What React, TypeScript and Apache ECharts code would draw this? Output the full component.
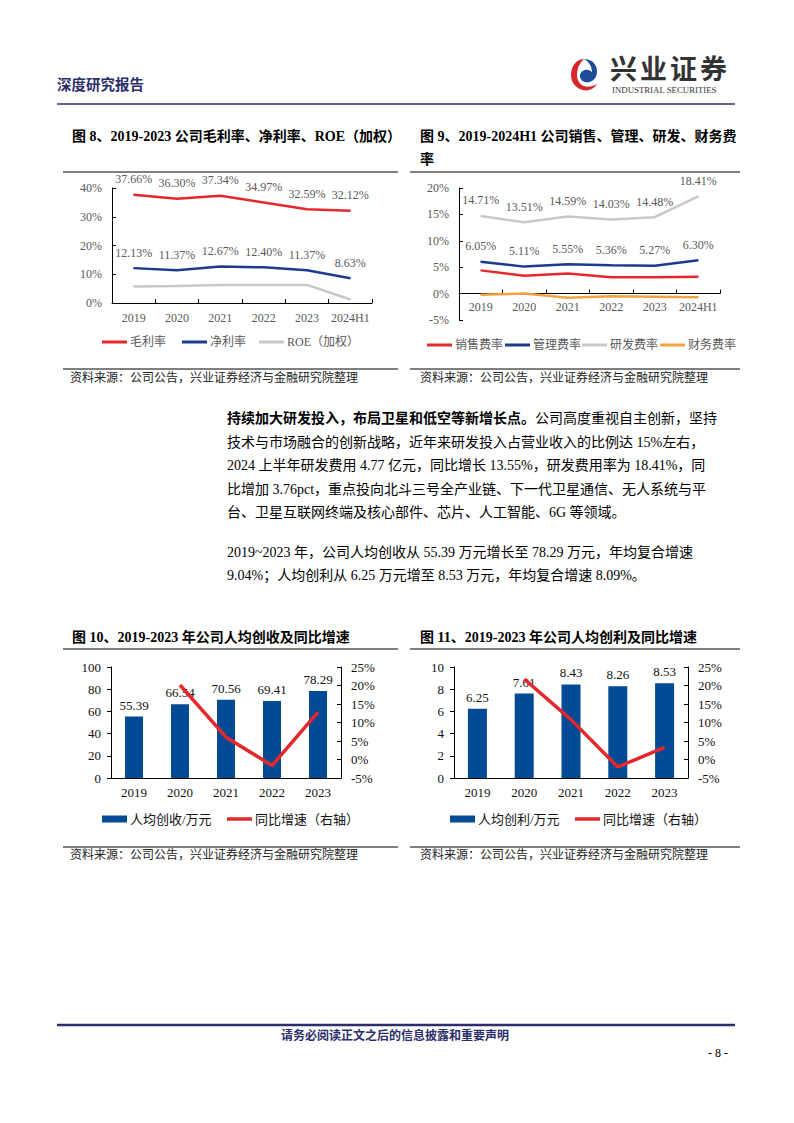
import React, { useEffect, useRef } from 'react';
import * as echarts from 'echarts';

// ---------- data ----------
const years6 = ['2019', '2020', '2021', '2022', '2023', '2024H1'];
const grossMargin = [37.66, 36.3, 37.34, 34.97, 32.59, 32.12];
const netMargin = [12.13, 11.37, 12.67, 12.4, 11.37, 8.63];
const roeWeighted = [5.7, 5.9, 6.3, 6.3, 6.3, 1.2];

const sellingRate = [4.4, 3.4, 3.8, 3.1, 3.1, 3.2];
const adminRate = [6.05, 5.11, 5.55, 5.36, 5.27, 6.3];
const rdRate = [14.71, 13.51, 14.59, 14.03, 14.48, 18.41];
const financeRate = [-0.2, 0.0, -0.8, -0.5, -0.6, -0.7];

const years5 = ['2019', '2020', '2021', '2022', '2023'];
const revenuePerCapita = [55.39, 66.54, 70.56, 69.41, 78.29];
const revenueGrowth = [null, 20.13, 6.04, -1.63, 12.79];
const profitPerCapita = [6.25, 7.61, 8.43, 8.26, 8.53];
const profitGrowth = [null, 21.76, 10.78, -2.02, 3.27];

const bodyLines = [
  '技术与市场融合的创新战略，近年来研发投入占营业收入的比例达 15%左右，',
  '2024 上半年研发费用 4.77 亿元，同比增长 13.55%，研发费用率为 18.41%，同',
  '比增加 3.76pct，重点投向北斗三号全产业链、下一代卫星通信、无人系统与平',
  '台、卫星互联网终端及核心部件、芯片、人工智能、6G 等领域。',
];
const para2Lines = [
  '2019~2023 年，公司人均创收从 55.39 万元增长至 78.29 万元，年均复合增速',
  '9.04%；人均创利从 6.25 万元增至 8.53 万元，年均复合增速 8.09%。',
];

// ---------- styling ----------
const SERIF = '"Liberation Serif", "Times New Roman", "Noto Sans CJK SC", serif';
const NAVY = '#2c2d6b';
const GRAY_TXT = '#595959';
const C_RED = '#e5282d';
const C_NAVY = '#1c3a8e';
const C_GRAY = '#c8c8c8';
const C_ORANGE = '#f3a23e';
const C_BAR = '#034a94';

echarts.graphic.registerShape(
  'logoRed',
  echarts.graphic.extendPath(
    'M13 1 C6 1 0 8 0 19 C0 29 7 36 15 36 C20 36 24 33 26 29 C23 31 20 32 17 32 C10 32 6 26 6 19 C6 11 9 5 13 1 Z',
    {}
  )
);
echarts.graphic.registerShape(
  'logoBlue',
  echarts.graphic.extendPath(
    'M13 1 C21 1 26 7 26 15 C26 23 21 27 16 27 C12 27 9 24 9 20 C9 16 12 13 16 13 C18 13 20 14 21 16 C21 9 18 4 13 1 Z',
    {}
  )
);

function txt(x: number, y: number, text: string, size: number, o: any = {}) {
  const align = o.align || 'left';
  return {
    type: 'text',
    x,
    y,
    silent: true,
    style: {
      text,
      fill: o.fill || '#000',
      font: `${o.weight || 'normal'} ${size}px ${SERIF}`,
      textAlign: align,
      align,
      textVerticalAlign: 'middle',
      verticalAlign: 'middle',
    },
  };
}
function hline(x1: number, x2: number, y: number, color = '#000', w = 1) {
  return {
    type: 'line',
    silent: true,
    shape: { x1, y1: y, x2, y2: y },
    style: { stroke: color, lineWidth: w },
  };
}

function legendItem(name: string, left: number, cy: number, opts: any = {}) {
  const ih = opts.itemHeight || 3;
  const fs = opts.fontSize || 12;
  return {
    show: true,
    left,
    top: cy - Math.max(ih, fs + 2) / 2,
    padding: 0,
    itemGap: 0,
    itemWidth: 25,
    itemHeight: ih,
    selectedMode: false,
    data: [{ name, icon: 'rect' }],
    textStyle: { fontSize: fs, color: opts.color || GRAY_TXT, fontFamily: SERIF, padding: [0, 0, 0, -2] },
  };
}

const pctLabel = (p: any) => Number(p.value).toFixed(2) + '%';
const numLabel = (p: any) => Number(p.value).toFixed(2);

function valueAxisSmall(gridIndex: number, min: number, max: number, interval: number) {
  return {
    type: 'value',
    gridIndex,
    min,
    max,
    interval,
    axisLine: { show: true, lineStyle: { color: '#000', width: 1 } },
    axisTick: { show: true, inside: true, length: 4, lineStyle: { color: '#000' } },
    axisLabel: { formatter: '{value}%', fontSize: 12, color: GRAY_TXT, fontFamily: SERIF, margin: 10 },
    splitLine: { show: false },
  };
}
function catAxisSmall(gridIndex: number, data: string[], margin: number, offset = 0) {
  return {
    type: 'category',
    gridIndex,
    data,
    position: 'bottom',
    offset,
    axisLine: { show: true, onZero: false, lineStyle: { color: '#000', width: 1 } },
    axisTick: { show: true, inside: true, length: 4, lineStyle: { color: '#000' } },
    axisLabel: { fontSize: 12, color: GRAY_TXT, fontFamily: SERIF, margin, interval: 0 },
  };
}
function catAxisBig(gridIndex: number, data: string[]) {
  return {
    type: 'category',
    gridIndex,
    data,
    axisLine: { show: true, onZero: false, lineStyle: { color: '#000', width: 1 } },
    axisTick: { show: false },
    axisLabel: { fontSize: 13, color: '#111', fontFamily: SERIF, margin: 8, interval: 0 },
  };
}
function leftAxisBig(gridIndex: number, max: number, interval: number) {
  return {
    type: 'value',
    gridIndex,
    position: 'left',
    min: 0,
    max,
    interval,
    axisLine: { show: true, lineStyle: { color: '#000', width: 1 } },
    axisTick: { show: true, inside: false, length: 4, lineStyle: { color: '#000' } },
    axisLabel: { fontSize: 13, color: '#111', fontFamily: SERIF, margin: 10 },
    splitLine: { show: false },
  };
}
function rightAxisBig(gridIndex: number) {
  return {
    type: 'value',
    gridIndex,
    position: 'right',
    min: -5,
    max: 25,
    interval: 5,
    axisLine: { show: true, lineStyle: { color: '#000', width: 1 } },
    axisTick: { show: true, inside: true, length: 4, lineStyle: { color: '#000' } },
    axisLabel: { formatter: '{value}%', fontSize: 13, color: '#111', fontFamily: SERIF, margin: 10 },
    splitLine: { show: false },
  };
}

function lineSeries(name: string, data: any[], xi: number, yi: number, color: string, labeled: boolean, width = 2.5) {
  return {
    type: 'line',
    name,
    data,
    xAxisIndex: xi,
    yAxisIndex: yi,
    symbol: 'circle',
    symbolSize: 1,
    itemStyle: { color },
    lineStyle: { color, width },
    label: labeled
      ? { show: true, position: 'top', distance: 9, fontSize: 12, color: GRAY_TXT, fontFamily: SERIF, formatter: pctLabel }
      : { show: false },
    z: 3,
  };
}

function buildOption() {
  const graphics: any[] = [];
  // header
  graphics.push(txt(57, 85, '深度研究报告', 14.5, { weight: 'bold', fill: NAVY }));
  graphics.push({ type: 'logoRed', x: 571, y: 58, scaleX: 1, scaleY: 0.9, silent: true, style: { fill: '#d7262d' } });
  graphics.push({ type: 'logoBlue', x: 571, y: 58, scaleX: 1, scaleY: 0.9, silent: true, style: { fill: '#1f4c98' } });
  ['兴', '业', '证', '券'].forEach((c, i) => graphics.push(txt(610 + i * 30, 70, c, 27, { weight: 'bold', fill: '#333' })));
  graphics.push(txt(612, 89.5, 'INDUSTRIAL SECURITIES', 8.8, { fill: '#333' }));
  graphics.push(hline(57, 735, 104, NAVY, 1.5));

  // chart titles & frames
  graphics.push(txt(72, 136, '图 8、2019-2023 公司毛利率、净利率、ROE（加权）', 14, { weight: 'bold' }));
  graphics.push(txt(420, 136, '图 9、2019-2024H1 公司销售、管理、研发、财务费', 14, { weight: 'bold' }));
  graphics.push(txt(420, 159, '率', 14, { weight: 'bold' }));
  graphics.push(hline(63, 398, 172));
  graphics.push(hline(410, 740, 172));
  graphics.push(hline(63, 398, 369));
  graphics.push(hline(410, 740, 369));
  graphics.push(txt(70, 378, '资料来源：公司公告，兴业证券经济与金融研究院整理', 12, { fill: '#222' }));
  graphics.push(txt(420, 378, '资料来源：公司公告，兴业证券经济与金融研究院整理', 12, { fill: '#222' }));

  // body text
  graphics.push(txt(227, 418, '持续加大研发投入，布局卫星和低空等新增长点。', 14, { weight: 'bold' }));
  graphics.push(txt(535, 418, '公司高度重视自主创新，坚持', 14));
  bodyLines.forEach((l, i) => graphics.push(txt(227, 442 + i * 23.5, l, 14)));
  para2Lines.forEach((l, i) => graphics.push(txt(227, 552 + i * 23.5, l, 14)));

  graphics.push(txt(72, 637, '图 10、2019-2023 年公司人均创收及同比增速', 14, { weight: 'bold' }));
  graphics.push(txt(420, 637, '图 11、2019-2023 年公司人均创利及同比增速', 14, { weight: 'bold' }));
  graphics.push(hline(63, 398, 649));
  graphics.push(hline(410, 740, 649));
  graphics.push(hline(63, 398, 847));
  graphics.push(hline(410, 740, 847));
  graphics.push(txt(70, 855, '资料来源：公司公告，兴业证券经济与金融研究院整理', 12, { fill: '#222' }));
  graphics.push(txt(420, 855, '资料来源：公司公告，兴业证券经济与金融研究院整理', 12, { fill: '#222' }));

  // footer
  graphics.push(hline(57, 735, 1025, NAVY, 2.5));
  graphics.push(txt(395, 1036, '请务必阅读正文之后的信息披露和重要声明', 12, { weight: 'bold', fill: NAVY, align: 'center' }));
  graphics.push(txt(718, 1053, '- 8 -', 12, { align: 'center' }));

  // chart 9: category axis sits on 0%; grid spans -5%..20% over 132px
  const g9Top = 188;
  const g9Height = 132;
  const zeroOffset = -(g9Height * 5) / 25;

  return {
    animation: false,
    backgroundColor: '#fff',
    textStyle: { fontFamily: SERIF },
    graphic: { elements: graphics },
    grid: [
      { left: 112, top: 188, width: 260, height: 115, containLabel: false },
      { left: 459, top: g9Top, width: 261, height: g9Height, containLabel: false },
      { left: 111, top: 667, width: 230, height: 111, containLabel: false },
      { left: 454, top: 667, width: 234, height: 111, containLabel: false },
    ],
    xAxis: [
      catAxisSmall(0, years6, 9),
      catAxisSmall(1, years6, 7, zeroOffset),
      catAxisBig(2, years5),
      catAxisBig(3, years5),
    ],
    yAxis: [
      valueAxisSmall(0, 0, 40, 10),
      valueAxisSmall(1, -5, 20, 5),
      leftAxisBig(2, 100, 20),
      rightAxisBig(2),
      leftAxisBig(3, 10, 2),
      rightAxisBig(3),
    ],
    legend: [
      legendItem('毛利率', 102, 343),
      legendItem('净利率', 182, 343),
      legendItem('ROE（加权）', 259, 343),
      legendItem('销售费率', 427, 346),
      legendItem('管理费率', 505, 346),
      legendItem('研发费率', 582, 346),
      legendItem('财务费率', 660, 346),
      legendItem('人均创收/万元', 102, 820, { itemHeight: 7, fontSize: 13, color: '#111' }),
      legendItem('同比增速（右轴）', 227, 820, { itemHeight: 3.5, fontSize: 13, color: '#111' }),
      legendItem('人均创利/万元', 450, 820, { itemHeight: 7, fontSize: 13, color: '#111' }),
      legendItem('同比增速（右轴）', 575, 820, { itemHeight: 3.5, fontSize: 13, color: '#111' }),
    ],
    series: [
      lineSeries('毛利率', grossMargin, 0, 0, C_RED, true),
      lineSeries('净利率', netMargin, 0, 0, C_NAVY, true),
      lineSeries('ROE（加权）', roeWeighted, 0, 0, C_GRAY, false),
      lineSeries('销售费率', sellingRate, 1, 1, C_RED, false),
      lineSeries('管理费率', adminRate, 1, 1, C_NAVY, true),
      lineSeries('研发费率', rdRate, 1, 1, C_GRAY, true),
      lineSeries('财务费率', financeRate, 1, 1, C_ORANGE, false),
      {
        type: 'bar',
        name: '人均创收/万元',
        data: revenuePerCapita,
        xAxisIndex: 2,
        yAxisIndex: 2,
        barWidth: 18,
        itemStyle: { color: C_BAR },
        label: { show: true, position: 'top', distance: 5, fontSize: 13, color: '#111', fontFamily: SERIF, formatter: numLabel },
      },
      {
        type: 'line',
        name: '同比增速（右轴）',
        data: revenueGrowth,
        xAxisIndex: 2,
        yAxisIndex: 3,
        symbol: 'none',
        itemStyle: { color: C_RED },
        lineStyle: { color: C_RED, width: 3.5 },
        z: 4,
      },
      {
        type: 'bar',
        name: '人均创利/万元',
        data: profitPerCapita,
        xAxisIndex: 3,
        yAxisIndex: 4,
        barWidth: 19,
        itemStyle: { color: C_BAR },
        label: { show: true, position: 'top', distance: 5, fontSize: 13, color: '#111', fontFamily: SERIF, formatter: numLabel },
      },
      {
        type: 'line',
        name: '同比增速（右轴）',
        data: profitGrowth,
        xAxisIndex: 3,
        yAxisIndex: 5,
        symbol: 'none',
        itemStyle: { color: C_RED },
        lineStyle: { color: C_RED, width: 3.5 },
        z: 4,
      },
    ],
  };
}

export default function App() {
  const ref = useRef<HTMLDivElement>(null);
  useEffect(() => {
    if (!ref.current) return;
    const chart = echarts.init(ref.current, null, { renderer: 'svg', width: 794, height: 1123 });
    chart.setOption(buildOption() as any);
    return () => chart.dispose();
  }, []);
  return (
    <div
      ref={ref}
      style={{ position: 'absolute', left: 0, top: 0, width: 794, height: 1123, background: '#fff' }}
    />
  );
}
